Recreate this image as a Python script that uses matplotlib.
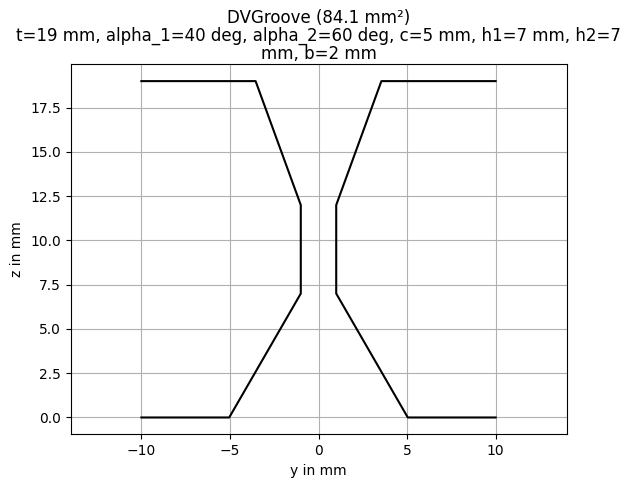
# DV groove cross section
import matplotlib
matplotlib.use("Agg")
import matplotlib.pyplot as plt

# groove outline, left and right side
y_left = [-10, -5.04, -1, -1, -3.55, -10]
z_left = [0, 0, 7, 12, 19, 19]
y_right = [10, 5.04, 1, 1, 3.55, 10]
z_right = [0, 0, 7, 12, 19, 19]

title = ("DVGroove (84.1 mm²)\n"
         "t=19 mm, alpha_1=40 deg, alpha_2=60 deg, c=5 mm, h1=7 mm, h2=7\n"
         "mm, b=2 mm")

fig = plt.figure(figsize=(6.31, 4.87), dpi=100)
W, H = 631, 487
ax = fig.add_axes([70.5 / W, (H - 434.3) / H, 496 / W, 370 / H])

ax.plot(y_left, z_left, color="k")
ax.plot(y_right, z_right, color="k")

ax.set_xlim(-14, 14)
ax.set_ylim(-0.95, 19.95)
ax.set_title(title, linespacing=1.0, pad=3.5)
ax.set_xlabel("y in mm")
ax.set_ylabel("z in mm")
ax.grid(True)

fig.savefig("out.png", dpi=100)
